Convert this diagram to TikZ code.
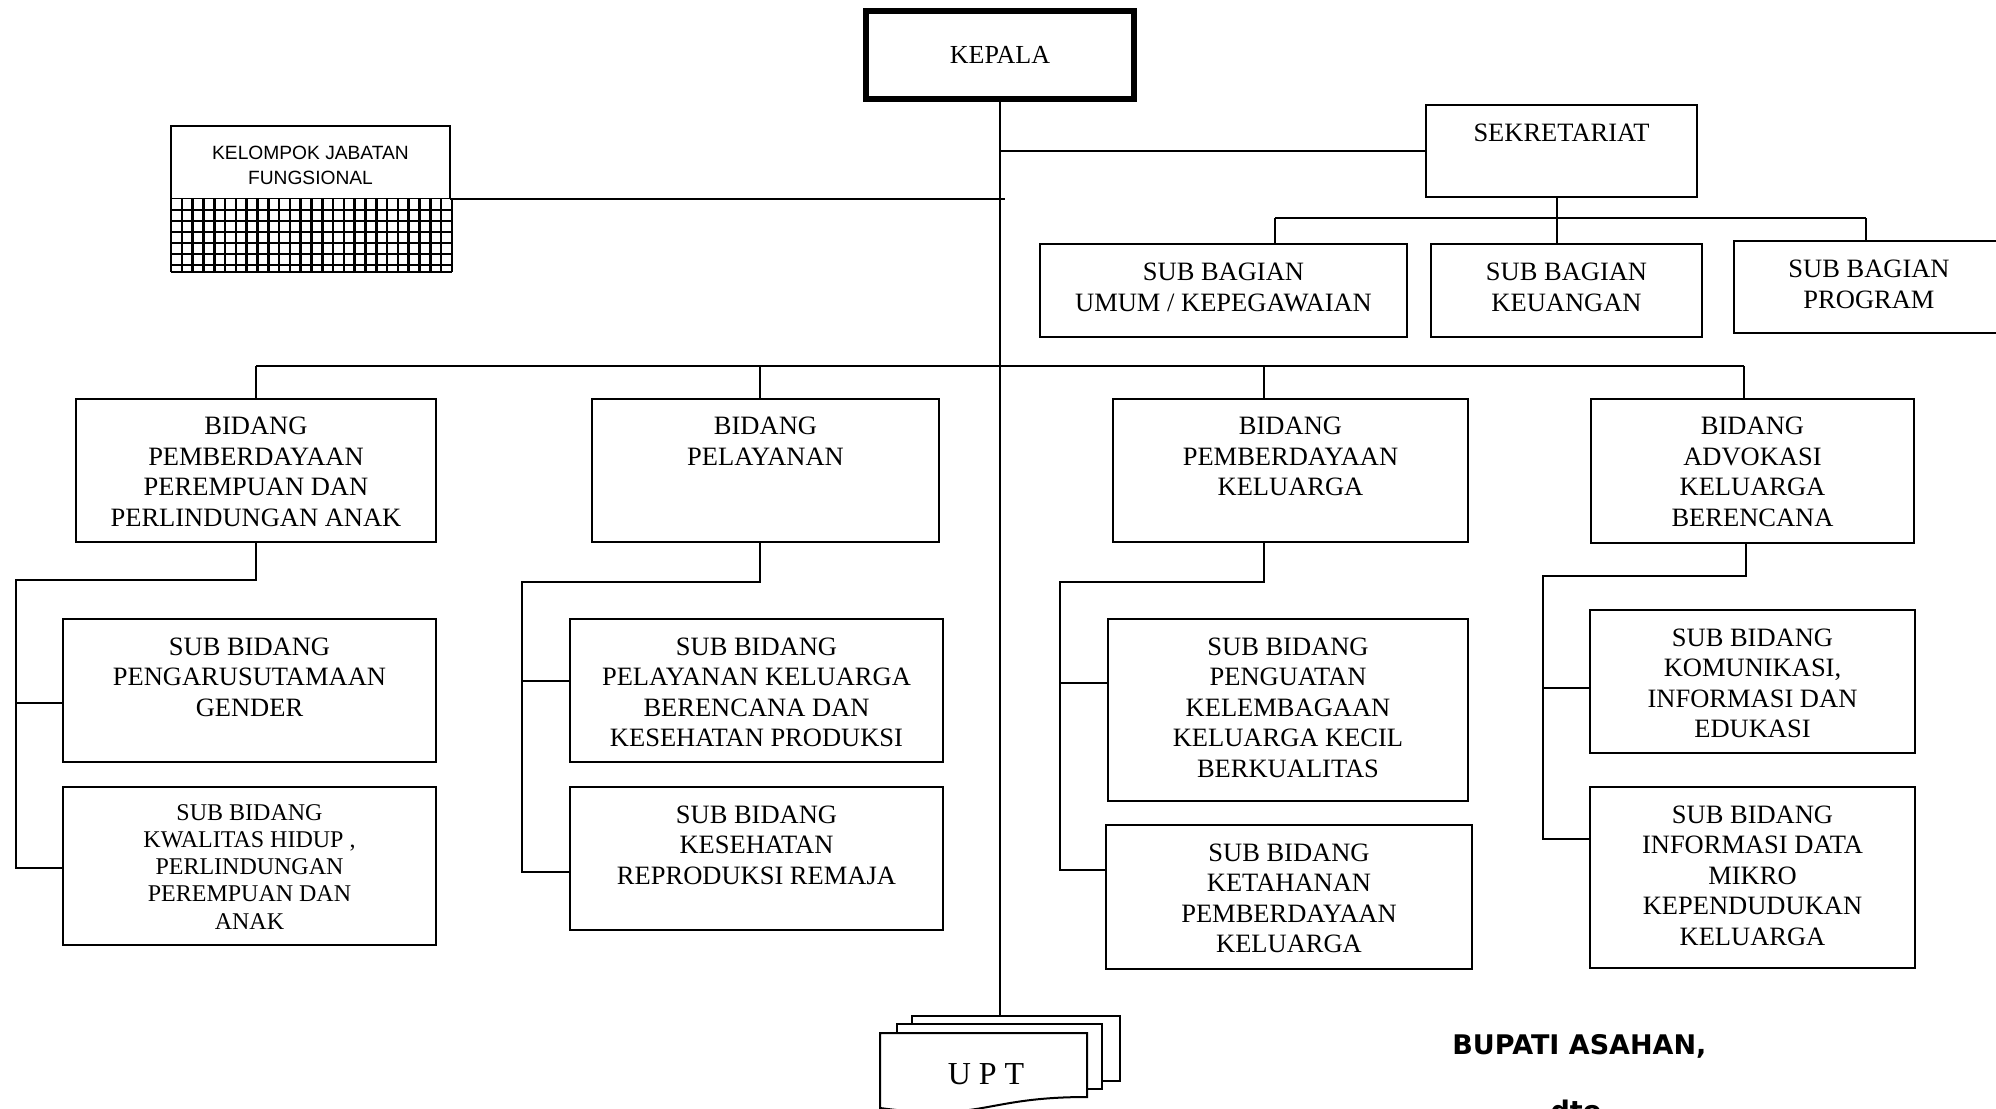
\documentclass[tikz,border=0pt]{standalone}
\usepackage{fontspec}
\setmainfont{Liberation Serif}
\newfontfamily\kjffont{Liberation Sans}
\newfontfamily\signfont{DejaVu Sans}
\usetikzlibrary{calc}

% #1 extra style, #2 name, #3 x1, #4 y1, #5 x2, #6 y2 (units of the picture)
\newcommand\orgbox[6][]{%
  \node[box,#1,anchor=north west,
        minimum width={(#5-#3)*0.5pt},minimum height={(#6-#4)*0.5pt}]
        (#2) at (#3,#4) {};}
% #1 extra style, #2 box name, #3 offset of the first line below the box top, #4 text
\newcommand\boxtext[4][]{%
  \node[lbl,#1] (#2-text) at ($(#2.north)+(0,#3)$) {#4};}

\tikzset{
  box/.style={draw,fill=white,line width=1pt,inner sep=0pt,outer sep=0pt},
  lbl/.style={align=center,inner sep=0pt,anchor=north,
              font=\fontsize{13.25pt}{15.25pt}\selectfont},
  small/.style={font=\fontsize{12pt}{13.6pt}\selectfont},
  conn/.style={line width=1pt},
  gridline/.style={line width=1.3pt},
}

\begin{document}
\begin{tikzpicture}[x=0.5pt,y=-0.5pt]
\useasboundingbox (0,0) rectangle (1996,1108);
\fill[white] (0,0) rectangle (1996,1108);
\clip (0,0) rectangle (1996,1108);

% head of the office
\node[draw,line width=3pt,fill=white,inner sep=0pt,outer sep=0pt,anchor=north west,
      minimum width=134pt,minimum height=44pt,
      font=\fontsize{13pt}{15pt}\selectfont] (kepala) at (866,11) {KEPALA};

% functional group with its grid-hatched base
\orgbox{kjf}{171}{126}{450}{199}
\node[lbl,font=\kjffont\fontsize{9.6pt}{12.5pt}\selectfont] (kjf-text)
  at ($(kjf.north)+(0,20)$) {KELOMPOK JABATAN\\FUNGSIONAL};
\fill[white] (171,199) rectangle (452,272);
\foreach \i in {0,...,26} \draw[gridline] ({171+\i*10.8},199) -- ({171+\i*10.8},272);
\foreach \j in {1,...,6} \draw[gridline] (171,{199+\j*11}) -- (452,{199+\j*11});
\draw[gridline] (171,272) -- (452,272);

% secretariat and its sub-sections
\orgbox{sek}{1426}{105}{1697}{197}
\boxtext{sek}{18.5}{SEKRETARIAT}
\orgbox{umum}{1040}{244}{1407}{337}
\boxtext{umum}{19}{SUB BAGIAN\\UMUM / KEPEGAWAIAN}
\orgbox{keu}{1431}{244}{1702}{337}
\boxtext{keu}{19}{SUB BAGIAN\\KEUANGAN}
\orgbox{prog}{1734}{241}{2004}{333}
\boxtext{prog}{19}{SUB BAGIAN\\PROGRAM}

% divisions
\orgbox{b1}{76}{399}{436}{542}
\boxtext{b1}{18}{BIDANG\\PEMBERDAYAAN\\PEREMPUAN DAN\\PERLINDUNGAN ANAK}
\orgbox{b2}{592}{399}{939}{542}
\boxtext{b2}{18}{BIDANG\\PELAYANAN}
\orgbox{b3}{1113}{399}{1468}{542}
\boxtext{b3}{18}{BIDANG\\PEMBERDAYAAN\\KELUARGA}
\orgbox{b4}{1591}{399}{1914}{543}
\boxtext{b4}{18}{BIDANG\\ADVOKASI\\KELUARGA\\BERENCANA}

% sub-divisions
\orgbox{sb1a}{63}{619}{436}{762}
\boxtext{sb1a}{18.5}{SUB BIDANG\\PENGARUSUTAMAAN\\GENDER}
\orgbox{sb1b}{63}{787}{436}{945}
\boxtext[small]{sb1b}{17}{SUB BIDANG\\KWALITAS HIDUP ,\\PERLINDUNGAN\\PEREMPUAN DAN\\ANAK}
\orgbox{sb2a}{570}{619}{943}{762}
\boxtext{sb2a}{18.5}{SUB BIDANG\\PELAYANAN KELUARGA\\BERENCANA DAN\\KESEHATAN PRODUKSI}
\orgbox{sb2b}{570}{787}{943}{930}
\boxtext{sb2b}{18.5}{SUB BIDANG\\KESEHATAN\\REPRODUKSI REMAJA}
\orgbox{sb3a}{1108}{619}{1468}{801}
\boxtext{sb3a}{18.5}{SUB BIDANG\\PENGUATAN\\KELEMBAGAAN\\KELUARGA KECIL\\BERKUALITAS}
\orgbox{sb3b}{1106}{825}{1472}{969}
\boxtext{sb3b}{18.5}{SUB BIDANG\\KETAHANAN\\PEMBERDAYAAN\\KELUARGA}
\orgbox{sb4a}{1590}{610}{1915}{753}
\boxtext{sb4a}{18.5}{SUB BIDANG\\KOMUNIKASI,\\INFORMASI DAN\\EDUKASI}
\orgbox{sb4b}{1590}{787}{1915}{968}
\boxtext{sb4b}{18.5}{SUB BIDANG\\INFORMASI DATA\\MIKRO\\KEPENDUDUKAN\\KELUARGA}

% technical units: a stack of three documents
\orgbox{uptback}{912}{1016}{1120}{1081}
\orgbox{uptmid}{897}{1024}{1102}{1089}
\draw[line width=1pt,fill=white] (880,1033) -- (1087,1033) -- (1087,1097)
  .. controls (983.5,1097) and (983.5,1122) .. (880,1108) -- cycle;
\node[inner sep=0pt,font=\fontsize{16pt}{18pt}\selectfont] (upt) at (986,1074.5) {U P T};

% signature block
\node[inner sep=0pt,anchor=base west,font=\signfont\bfseries\fontsize{13.5pt}{16pt}\selectfont]
  (bupati) at (1452,1054) {BUPATI ASAHAN,};
\node[inner sep=0pt,anchor=base,font=\signfont\bfseries\fontsize{13.5pt}{16pt}\selectfont]
  (dto) at (1576,1120.5) {dto};

% ---- connectors ----
\draw[conn] (kepala.south) -- (kepala.south |- uptback.north);
\draw[conn,line width=1.2pt] (kjf.south east) -- ($(kjf.south east -| kepala.south)+(5,0)$);
\draw[conn] (sek.west) -- (sek.west -| kepala.south);

% secretariat branch
\coordinate (sbusL) at (1275,218);
\coordinate (sbusR) at (1866,218);
\coordinate (skx) at (1557,218);
\draw[conn] (sbusL) -- (sbusR);
\draw[conn] (skx |- sek.south) -- (skx |- keu.north);
\draw[conn] (sbusL) -- (sbusL |- umum.north);
\draw[conn] (sbusR) -- (sbusR |- prog.north);

% division bus
\coordinate (d1) at (256,366);
\coordinate (d2) at (760,366);
\coordinate (d3) at (1264,366);
\coordinate (d4) at (1744,366);
\draw[conn] (d1) -- (d4);
\draw[conn] (d1) -- (d1 |- b1.north);
\draw[conn] (d2) -- (d2 |- b2.north);
\draw[conn] (d3) -- (d3 |- b3.north);
\draw[conn] (d4) -- (d4 |- b4.north);

% sub-division trees
\coordinate (g1top) at (256,580);  \coordinate (g1c) at (16,580);
\coordinate (g1a) at (16,703);     \coordinate (g1e) at (16,868);
\draw[conn] (g1top |- b1.south) -- (g1top) -- (g1c) -- (g1e) -- (g1e -| sb1b.west);
\draw[conn] (g1a) -- (g1a -| sb1a.west);

\coordinate (g2top) at (760,582);  \coordinate (g2c) at (522,582);
\coordinate (g2a) at (522,681);    \coordinate (g2e) at (522,872);
\draw[conn] (g2top |- b2.south) -- (g2top) -- (g2c) -- (g2e) -- (g2e -| sb2b.west);
\draw[conn] (g2a) -- (g2a -| sb2a.west);

\coordinate (g3top) at (1264,582); \coordinate (g3c) at (1060,582);
\coordinate (g3a) at (1060,683);   \coordinate (g3e) at (1060,870);
\draw[conn] (g3top |- b3.south) -- (g3top) -- (g3c) -- (g3e) -- (g3e -| sb3b.west);
\draw[conn] (g3a) -- (g3a -| sb3a.west);

\coordinate (g4top) at (1746,576); \coordinate (g4c) at (1543,576);
\coordinate (g4a) at (1543,688);   \coordinate (g4e) at (1543,839);
\draw[conn] (g4top |- b4.south) -- (g4top) -- (g4c) -- (g4e) -- (g4e -| sb4b.west);
\draw[conn] (g4a) -- (g4a -| sb4a.west);
\end{tikzpicture}
\end{document}
